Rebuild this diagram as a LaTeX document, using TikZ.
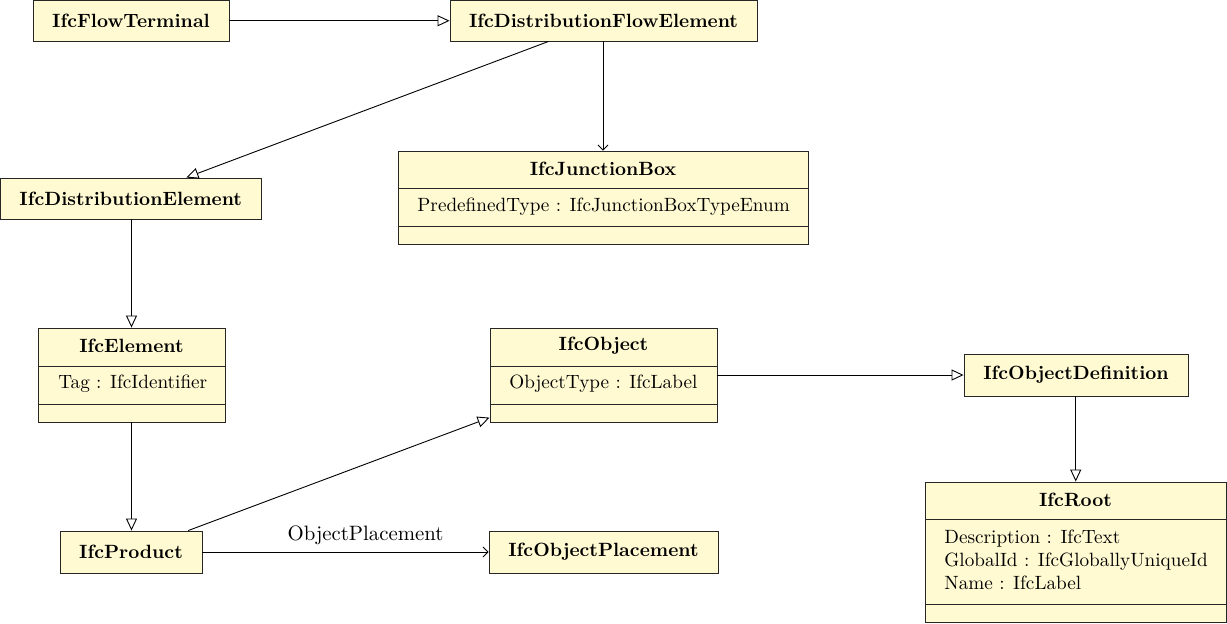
\documentclass[tikz,border=0pt]{standalone}
\usetikzlibrary{arrows.meta,fit}
\definecolor{classfill}{RGB}{255,250,210}
\newcommand{\clsfont}{\fontsize{9.6}{11.5}\selectfont}
\begin{document}
\begin{tikzpicture}[x=0.5pt,y=-0.5pt,
  cls/.style={draw=black!85, fill=classfill, line width=0.45pt, inner sep=0pt},
  named/.style={cls, label={[font=\clsfont\bfseries]center:#1}},
  ctitle/.style={font=\clsfont\bfseries},
  gen/.style={draw, line width=0.45pt, -{Triangle[open,length=6pt,width=5.5pt]}},
  assoc/.style={draw, line width=0.45pt, -{Straight Barb[length=2.5pt,width=5pt]}},
  sep/.style={draw=black!85, line width=0.45pt},
  attr/.style={anchor=west, inner sep=0pt, align=left, font=\clsfont}
]
\useasboundingbox (0,0) rectangle (1227,623);

% simple classes
\node[named=IfcFlowTerminal, fit={(33,0.5) (229,41)}] (ft) {};
\node[named=IfcDistributionFlowElement, fit={(450,0.5) (757,41)}] (dfe) {};
\node[named=IfcDistributionElement, fit={(0.5,178) (261,219)}] (de) {};
\node[named=IfcObjectDefinition, fit={(964,354) (1188,396)}] (od) {};
\node[named=IfcProduct, fit={(60,531) (202,573)}] (prod) {};
\node[named=IfcObjectPlacement, fit={(489,531) (718,573)}] (op) {};

% classes with attribute compartments
\node[cls, fit={(398,151) (808,244)}] (jb) {};
\node[ctitle] (jbt) at (603,169) {IfcJunctionBox};
\draw[sep] (398,188) -- (808,188);
\draw[sep] (398,226) -- (808,226);
\node[attr] (jba) at (417,207) {PredefinedType : IfcJunctionBoxTypeEnum};

\node[cls, fit={(38,328) (225,422)}] (el) {};
\node[ctitle] (elt) at (131.5,346) {IfcElement};
\draw[sep] (38,366) -- (225,366);
\draw[sep] (38,404) -- (225,404);
\node[attr] (ela) at (58,384) {Tag : IfcIdentifier};

\node[cls, fit={(490,328) (717,422)}] (obj) {};
\node[ctitle] (objt) at (603.5,346) {IfcObject};
\draw[sep] (490,366) -- (717,366);
\draw[sep] (490,404) -- (717,404);
\node[attr] (obja) at (509,384) {ObjectType : IfcLabel};

\node[cls, fit={(925,482) (1226.5,622.5)}] (root) {};
\node[ctitle] (roott) at (1075.5,500) {IfcRoot};
\draw[sep] (925,519) -- (1226.5,519);
\draw[sep] (925,604) -- (1226.5,604);
\node[attr] (roota) at (944,560) {Description : IfcText\\GlobalId : IfcGloballyUniqueId\\Name : IfcLabel};

% generalizations and associations
\draw[gen] (ft) -- (dfe);
\draw[gen] (dfe) -- (de);
\draw[assoc] (dfe.south -| jb.north) -- (jb.north);
\draw[gen] (de.south -| el.north) -- (el.north);
\draw[gen] (el.south) -- (el.south |- prod.north);
\draw[gen] (prod) -- (obj);
\draw[gen] (obj) -- (od);
\draw[gen] (od.south -| root.north) -- (root.north);
\draw[assoc] (prod) -- node[pos=0.57, above, inner sep=3.5pt, font=\fontsize{10.4}{12}\selectfont] (oplabel) {ObjectPlacement} (op);
\end{tikzpicture}
\end{document}
